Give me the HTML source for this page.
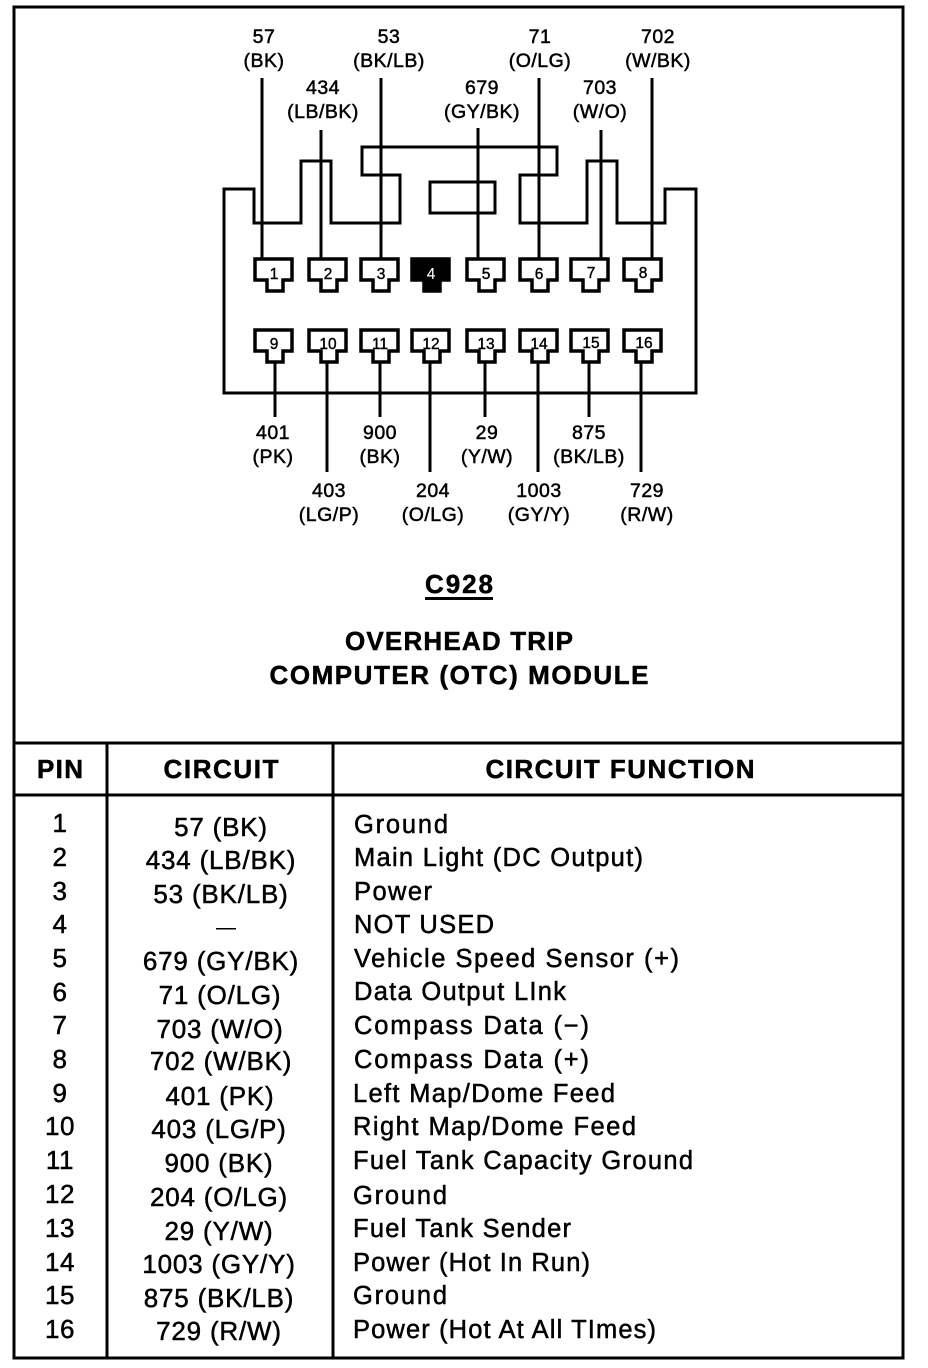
<!DOCTYPE html>
<html><head><meta charset="utf-8"><style>
html,body{margin:0;padding:0;background:#fff}
svg{display:block}
text{font-family:"Liberation Sans",sans-serif;fill:#000;stroke:#000;stroke-width:.5}
.l{font-size:19.5px;letter-spacing:.5px;text-anchor:middle}
.p{font-size:26px;letter-spacing:.6px;text-anchor:middle}
.c{font-size:26px;letter-spacing:.8px;text-anchor:middle}
.f{font-size:25.5px}
.h{font-size:26px;font-weight:bold;text-anchor:middle}
.n{font-size:15.5px;text-anchor:middle;stroke-width:.4}
.w{stroke:#000;stroke-width:3;fill:none}
.t{stroke:#000;stroke-width:3.5;fill:none}
</style></head><body>
<svg width="928" height="1368" viewBox="0 0 928 1368" xmlns="http://www.w3.org/2000/svg">
<rect x="14" y="7" width="889" height="1351" class="w"/>
<path class="w" d="M14 743H903M14 795H903M107 743V1358M333 743V1358"/>

<path class="w" stroke-linejoin="miter" d="M224 189H254V223H301V161H331V223H400V175H362V147H557V175H520V223H587V161H617V223H665V189H696V393H224Z"/>
<rect class="w" x="430" y="182" width="65" height="31"/>

<path class="w" d="M262 78V259M321 130V259M381 78V259M478 128V259M539 78V259M601 130V259M652 78V259"/>
<path class="w" d="M275 362V417M327 362V472M380 362V417M430 362V472M485 362V417M538 362V472M589 362V417M641 362V472"/>

<g class="t" stroke-linejoin="miter">
<path d="M255 259h37v21h-9v11h-16v-11h-12z"/>
<path d="M309 259h37v21h-9v11h-16v-11h-12z"/>
<path d="M361 259h37v21h-9v11h-16v-11h-12z"/>
<path d="M412 259h37v21h-9v11h-16v-11h-12z" style="fill:#000"/>
<path d="M467 259h37v21h-9v11h-16v-11h-12z"/>
<path d="M520 259h37v21h-9v11h-16v-11h-12z"/>
<path d="M571 259h37v21h-9v11h-16v-11h-12z"/>
<path d="M624 259h37v21h-9v11h-16v-11h-12z"/>
<path d="M255 330h37v21h-9v11h-16v-11h-12z"/>
<path d="M309 330h37v21h-9v11h-16v-11h-12z"/>
<path d="M361 330h37v21h-9v11h-16v-11h-12z"/>
<path d="M412 330h37v21h-9v11h-16v-11h-12z"/>
<path d="M467 330h37v21h-9v11h-16v-11h-12z"/>
<path d="M520 330h37v21h-9v11h-16v-11h-12z"/>
<path d="M571 330h37v21h-9v11h-16v-11h-12z"/>
<path d="M624 330h37v21h-9v11h-16v-11h-12z"/>
</g>
<text class="n" x="274" y="279">1</text><text class="n" x="328" y="279">2</text><text class="n" x="381" y="279">3</text><text class="n" x="431" y="279" style="fill:#fff;stroke:#fff;stroke-width:.1">4</text><text class="n" x="486" y="279">5</text><text class="n" x="539" y="279">6</text><text class="n" x="591" y="278">7</text><text class="n" x="643" y="278">8</text>
<text class="n" x="274" y="349">9</text><text class="n" x="328" y="349">10</text><text class="n" x="380" y="349">11</text><text class="n" x="431" y="349">12</text><text class="n" x="486" y="349">13</text><text class="n" x="539" y="349">14</text><text class="n" x="591" y="348">15</text><text class="n" x="644" y="348">16</text>

<text class="l" x="264" y="43">57</text><text class="l" x="264" y="67">(BK)</text>
<text class="l" x="389" y="43">53</text><text class="l" x="389" y="67">(BK/LB)</text>
<text class="l" x="540" y="43">71</text><text class="l" x="540" y="67">(O/LG)</text>
<text class="l" x="658" y="43">702</text><text class="l" x="658" y="67">(W/BK)</text>
<text class="l" x="323" y="94">434</text><text class="l" x="323" y="118">(LB/BK)</text>
<text class="l" x="482" y="94">679</text><text class="l" x="482" y="118">(GY/BK)</text>
<text class="l" x="600" y="94">703</text><text class="l" x="600" y="118">(W/O)</text>

<text class="l" x="273" y="439">401</text><text class="l" x="273" y="463">(PK)</text>
<text class="l" x="380" y="439">900</text><text class="l" x="380" y="463">(BK)</text>
<text class="l" x="487" y="439">29</text><text class="l" x="487" y="463">(Y/W)</text>
<text class="l" x="589" y="439">875</text><text class="l" x="589" y="463">(BK/LB)</text>
<text class="l" x="329" y="497">403</text><text class="l" x="329" y="521">(LG/P)</text>
<text class="l" x="433" y="497">204</text><text class="l" x="433" y="521">(O/LG)</text>
<text class="l" x="539" y="497">1003</text><text class="l" x="539" y="521">(GY/Y)</text>
<text class="l" x="647" y="497">729</text><text class="l" x="647" y="521">(R/W)</text>

<text class="h" x="459" y="593" textLength="68" lengthAdjust="spacing">C928</text>
<rect x="425" y="597" width="68" height="3"/>
<text class="h" x="459" y="650" textLength="228" lengthAdjust="spacing">OVERHEAD TRIP</text>
<text class="h" x="459" y="684" textLength="379" lengthAdjust="spacing">COMPUTER (OTC) MODULE</text>

<text class="h" x="60" y="778" textLength="46" lengthAdjust="spacing">PIN</text>
<text class="h" x="221" y="778" textLength="115" lengthAdjust="spacing">CIRCUIT</text>
<text class="h" x="620" y="778" textLength="269" lengthAdjust="spacing">CIRCUIT FUNCTION</text>

<g class="p">
<text x="60" y="832">1</text><text x="60" y="866">2</text><text x="60" y="900">3</text><text x="60" y="933">4</text>
<text x="60" y="967">5</text><text x="60" y="1001">6</text><text x="60" y="1034">7</text><text x="60" y="1068">8</text>
<text x="60" y="1102">9</text><text x="60" y="1135">10</text><text x="60" y="1169">11</text><text x="60" y="1203">12</text>
<text x="60" y="1237">13</text><text x="60" y="1271">14</text><text x="60" y="1304">15</text><text x="60" y="1338">16</text>
</g>
<g class="c">
<text x="221" y="836">57 (BK)</text><text x="221" y="869">434 (LB/BK)</text><text x="221" y="903">53 (BK/LB)</text>
<text x="221" y="970">679 (GY/BK)</text><text x="220" y="1004">71 (O/LG)</text><text x="220" y="1038">703 (W/O)</text><text x="221" y="1070">702 (W/BK)</text>
<text x="220" y="1105">401 (PK)</text><text x="219" y="1138">403 (LG/P)</text><text x="219" y="1172">900 (BK)</text><text x="219" y="1206">204 (O/LG)</text>
<text x="219" y="1240">29 (Y/W)</text><text x="219" y="1273">1003 (GY/Y)</text><text x="219" y="1307">875 (BK/LB)</text><text x="219" y="1340">729 (R/W)</text>
</g>
<rect x="216" y="928" width="20" height="1.5"/>
<g class="f">
<text x="354" y="833" textLength="94" lengthAdjust="spacing">Ground</text>
<text x="354" y="866" textLength="289" lengthAdjust="spacing">Main Light (DC Output)</text>
<text x="354" y="900" textLength="78" lengthAdjust="spacing">Power</text>
<text x="354" y="933" textLength="140" lengthAdjust="spacing">NOT USED</text>
<text x="354" y="967" textLength="325" lengthAdjust="spacing">Vehicle Speed Sensor (+)</text>
<text x="354" y="1000" textLength="212" lengthAdjust="spacing">Data Output LInk</text>
<text x="354" y="1034" textLength="235" lengthAdjust="spacing">Compass Data (−)</text>
<text x="354" y="1068" textLength="235" lengthAdjust="spacing">Compass Data (+)</text>
<text x="353" y="1102" textLength="262" lengthAdjust="spacing">Left Map/Dome Feed</text>
<text x="353" y="1135" textLength="283" lengthAdjust="spacing">Right Map/Dome Feed</text>
<text x="353" y="1169" textLength="340" lengthAdjust="spacing">Fuel Tank Capacity Ground</text>
<text x="353" y="1204" textLength="94" lengthAdjust="spacing">Ground</text>
<text x="353" y="1237" textLength="218" lengthAdjust="spacing">Fuel Tank Sender</text>
<text x="353" y="1271" textLength="237" lengthAdjust="spacing">Power (Hot In Run)</text>
<text x="353" y="1304" textLength="94" lengthAdjust="spacing">Ground</text>
<text x="353" y="1338" textLength="303" lengthAdjust="spacing">Power (Hot At All TImes)</text>
</g>
</svg>
</body></html>
